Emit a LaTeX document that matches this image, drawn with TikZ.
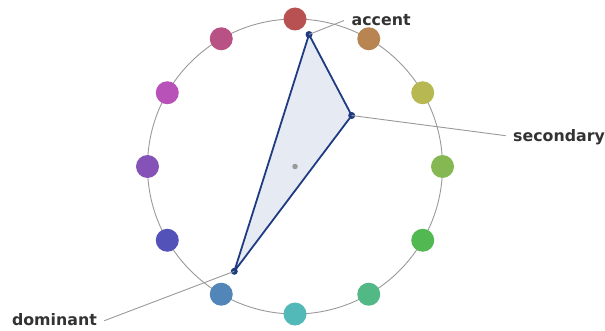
\documentclass[tikz,border=0pt]{standalone}
\usepackage{fontspec}
\usetikzlibrary{calc}
\setmainfont{DejaVu Sans}
\definecolor{ringgray}{HTML}{999999}
\definecolor{txt}{HTML}{333333}
\definecolor{triline}{HTML}{1F3C82}
\definecolor{trifill}{HTML}{E6EAF2}
\definecolor{hc0}{HTML}{B85252}
\definecolor{hc1}{HTML}{B88552}
\definecolor{hc2}{HTML}{B8B852}
\definecolor{hc3}{HTML}{85B852}
\definecolor{hc4}{HTML}{52B852}
\definecolor{hc5}{HTML}{52B885}
\definecolor{hc6}{HTML}{52B8B8}
\definecolor{hc7}{HTML}{5285B8}
\definecolor{hc8}{HTML}{5252B8}
\definecolor{hc9}{HTML}{8552B8}
\definecolor{hc10}{HTML}{B852B8}
\definecolor{hc11}{HTML}{B85285}
\tikzset{
  hue/.style={circle, fill=#1, draw=none, minimum size=23pt, inner sep=0pt},
  vdot/.style={circle, fill=triline, inner sep=0pt, minimum size=7pt},
  lbl/.style={text=txt, font=\fontsize{15.8}{18}\selectfont\bfseries, inner sep=0pt},
  leader/.style={draw=ringgray, line width=0.9pt},
}
\begin{document}
\begin{tikzpicture}[x=1pt,y=-1pt]
\useasboundingbox (0,0) rectangle (605,331);
\coordinate (c) at (295,166.5);
\draw[ringgray, line width=0.9pt] (c) circle [radius=147.5pt];
\foreach \i in {0,...,11}{
  \node[hue=hc\i] (h\i) at ($(c)+({30*\i-90}:147.5)$) {};
}
\coordinate (acc) at (309,34.5);
\coordinate (sec) at (351.7,115.5);
\coordinate (dom) at (234.3,271.3);
\draw[fill=trifill, draw=triline, line width=1.8pt, line join=round] (acc) -- (sec) -- (dom) -- cycle;
\node[circle, fill=ringgray, inner sep=0pt, minimum size=5.5pt] (ctr) at (c) {};
\node[vdot] (vacc) at (acc) {};
\node[vdot] (vsec) at (sec) {};
\node[vdot] (vdom) at (dom) {};
\coordinate (eacc) at (344,20.5);
\coordinate (esec) at (505.7,135.7);
\coordinate (edom) at (104.3,320.7);
\draw[leader] (acc) -- (eacc);
\draw[leader] (sec) -- (esec);
\draw[leader] (dom) -- (edom);
\node[lbl, anchor=base west] (lacc) at (351.5,26) {accent};
\node[lbl, anchor=base west] (lsec) at (513,141.5) {secondary};
\node[lbl, anchor=base east] (ldom) at (97,325.5) {dominant};
\end{tikzpicture}
\end{document}
